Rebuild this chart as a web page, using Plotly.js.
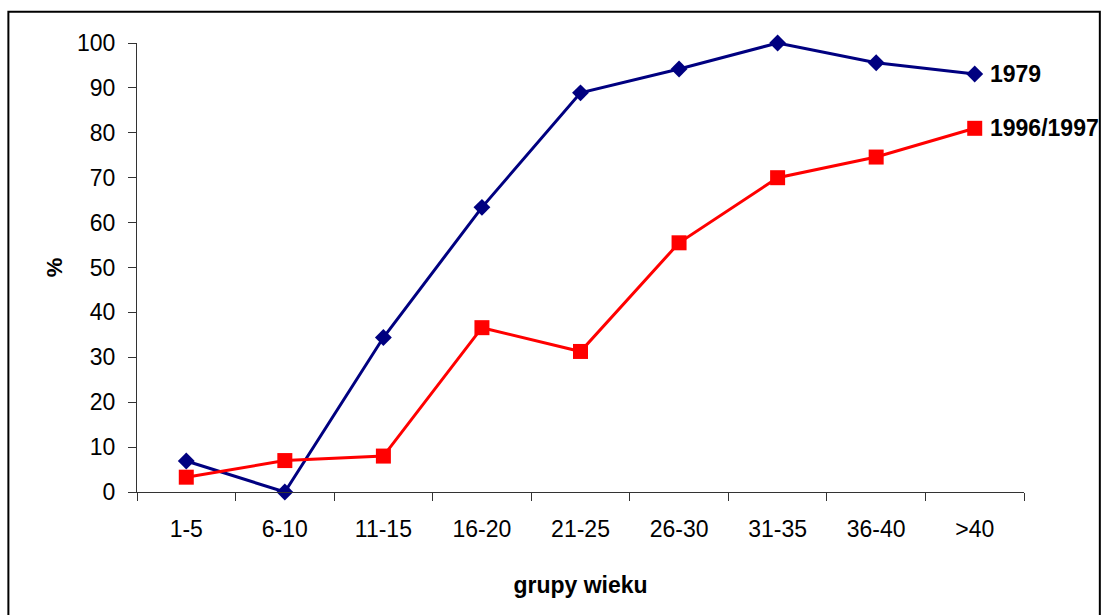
<!DOCTYPE html>
<html>
<head>
<meta charset="utf-8">
<script src="https://cdn.plot.ly/plotly-3.0.1.min.js"></script>
<style>
html,body{margin:0;padding:0;background:#fff;}
#chart{width:1102px;height:615px;}
</style>
</head>
<body>
<div id="chart"></div>
<script>
const categories = ["1-5","6-10","11-15","16-20","21-25","26-30","31-35","36-40",">40"];
const series1979 = [6.9, 0, 34.4, 63.4, 88.9, 94.2, 100, 95.6, 93.1];
const series1996 = [3.3, 7.0, 8.0, 36.6, 31.3, 55.5, 70.0, 74.6, 81.0];
const seriesNames = ["1979", "1996/1997"];
const yTicks = [0,10,20,30,40,50,60,70,80,90,100];

const font = "Liberation Sans, Arial, sans-serif";

const traces = [
  {
    x: categories, y: series1979, name: seriesNames[0], type: "scatter", mode: "lines+markers",
    line: {color: "#000080", width: 3},
    marker: {symbol: "diamond", size: 13, color: "#000080"},
    cliponaxis: false
  },
  {
    x: categories, y: series1996, name: seriesNames[1], type: "scatter", mode: "lines+markers",
    line: {color: "#FF0000", width: 3},
    marker: {symbol: "square", size: 15, color: "#FF0000"},
    cliponaxis: false
  }
];

const last = categories.length - 1;
const layout = {
  width: 1102, height: 615,
  margin: {l: 137, r: 78, t: 43, b: 123},
  paper_bgcolor: "#fff", plot_bgcolor: "#fff",
  showlegend: false,
  font: {family: font, color: "#000", size: 23},
  xaxis: {
    type: "category", range: [-0.5, 8.5], tickson: "boundaries",
    showgrid: false, zeroline: false, showline: true, linecolor: "#333", linewidth: 1,
    ticks: "outside", ticklen: 8, tickcolor: "#333",
    ticklabelstandoff: 16,
    tickfont: {family: font, size: 23, color: "#000"},
    title: {text: "grupy wieku", font: {family: font, size: 23, color: "#000", weight: "bold"}, standoff: 36}
  },
  yaxis: {
    range: [0, 100], tickvals: yTicks,
    showgrid: false, zeroline: false, showline: true, linecolor: "#333", linewidth: 1,
    ticks: "outside", ticklen: 8, tickcolor: "#333",
    ticklabelstandoff: 8,
    tickfont: {family: font, size: 23, color: "#000"},
    title: {text: "%", font: {family: font, size: 22, color: "#000", weight: "bold"}, standoff: 8}
  },
  annotations: [
    {x: categories[last], y: series1979[last], xref: "x", yref: "y", text: "<b>" + seriesNames[0] + "</b>",
     showarrow: false, xanchor: "left", xshift: 13, font: {family: font, size: 23, color: "#000"}},
    {x: categories[last], y: series1996[last], xref: "x", yref: "y", text: "<b>" + seriesNames[1] + "</b>",
     showarrow: false, xanchor: "left", xshift: 13, font: {family: font, size: 23, color: "#000"}}
  ],
  shapes: [
    {type: "rect", xref: "paper", yref: "paper", x0: -0.145, x1: 1.0855, y0: -0.30, y1: 1.0697,
     line: {color: "#000", width: 2}, fillcolor: "rgba(0,0,0,0)", layer: "below"}
  ]
};

Plotly.newPlot("chart", traces, layout, {displayModeBar: false, staticPlot: true});
</script>
</body>
</html>
